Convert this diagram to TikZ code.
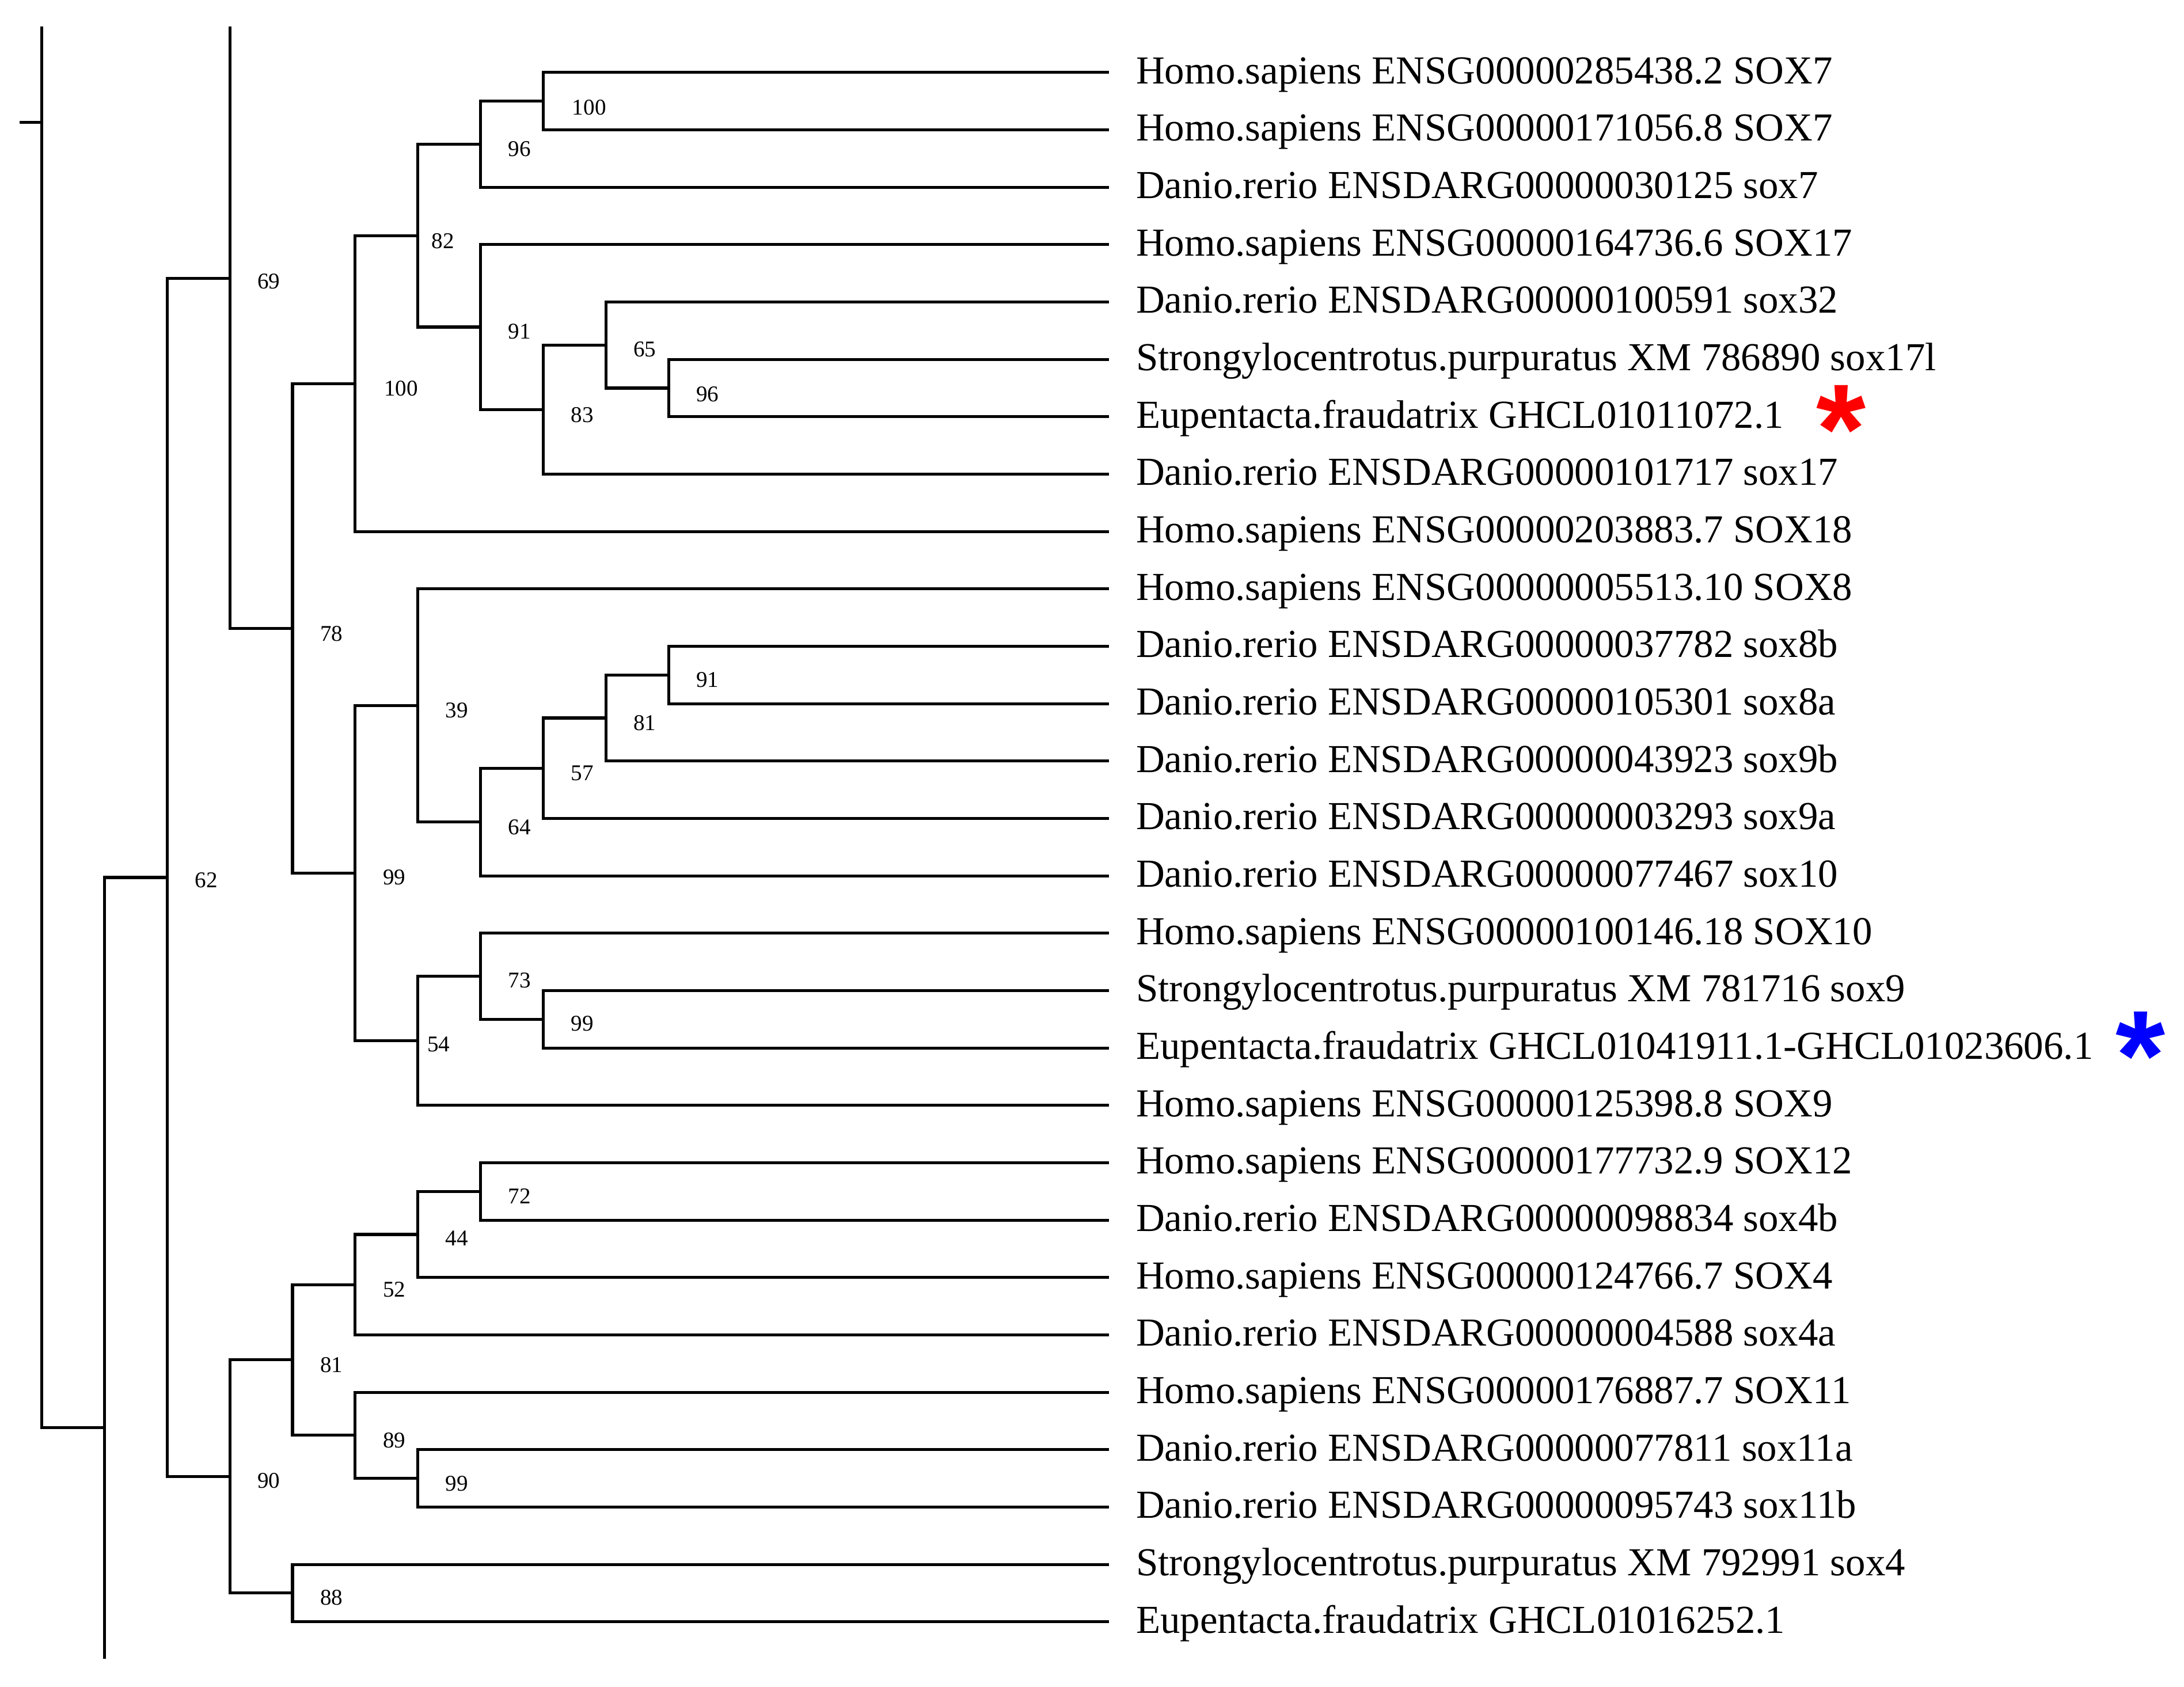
\documentclass[tikz,border=0pt]{standalone}
\usepackage{fontspec}
\setmainfont{Liberation Serif}
\newfontfamily\astfont{Liberation Sans}
\tikzset{
  br/.style={line width=0.6pt, line cap=rect},
  tiplabel/.style={anchor=base west, inner sep=0pt, font=\fontsize{8.1}{9}\selectfont},
  bs/.style={inner sep=0pt, font=\fontsize{4.6}{5}\selectfont},
  ast/.style={inner sep=0pt, font=\astfont\fontsize{26}{26}\bfseries\selectfont},
}
\newcommand{\tipp}[3]{\coordinate (#1) at (795,#2); \node[tiplabel] (#1-l) at ([yshift=-0.08cm]815,#2) {#3};}
% name, x, y, child1, child2, labelx, labely, label
\newcommand{\clade}[8]{\coordinate (#1) at (#2,#3);
  \draw[br] (#4) -| (#1|-#5) -- (#5);
  \node[bs] (#1-b) at (#6,#7) {#8};}
\begin{document}
\begin{tikzpicture}[x=0.01cm,y=-0.01cm]
\useasboundingbox (0,0) rectangle (1568,1211);
\tipp{t1}{52}{Homo.sapiens ENSG00000285438.2 SOX7}
\tipp{t2}{93.2}{Homo.sapiens ENSG00000171056.8 SOX7}
\tipp{t3}{134.4}{Danio.rerio ENSDARG00000030125 sox7}
\tipp{t4}{175.6}{Homo.sapiens ENSG00000164736.6 SOX17}
\tipp{t5}{216.8}{Danio.rerio ENSDARG00000100591 sox32}
\tipp{t6}{258}{Strongylocentrotus.purpuratus XM 786890 sox17l}
\tipp{t7}{299.2}{Eupentacta.fraudatrix GHCL01011072.1}
\tipp{t8}{340.4}{Danio.rerio ENSDARG00000101717 sox17}
\tipp{t9}{381.6}{Homo.sapiens ENSG00000203883.7 SOX18}
\tipp{t10}{422.8}{Homo.sapiens ENSG00000005513.10 SOX8}
\tipp{t11}{464}{Danio.rerio ENSDARG00000037782 sox8b}
\tipp{t12}{505.2}{Danio.rerio ENSDARG00000105301 sox8a}
\tipp{t13}{546.4}{Danio.rerio ENSDARG00000043923 sox9b}
\tipp{t14}{587.6}{Danio.rerio ENSDARG00000003293 sox9a}
\tipp{t15}{628.8}{Danio.rerio ENSDARG00000077467 sox10}
\tipp{t16}{670}{Homo.sapiens ENSG00000100146.18 SOX10}
\tipp{t17}{711.2}{Strongylocentrotus.purpuratus XM 781716 sox9}
\tipp{t18}{752.4}{Eupentacta.fraudatrix GHCL01041911.1-GHCL01023606.1}
\tipp{t19}{793.6}{Homo.sapiens ENSG00000125398.8 SOX9}
\tipp{t20}{834.8}{Homo.sapiens ENSG00000177732.9 SOX12}
\tipp{t21}{876}{Danio.rerio ENSDARG00000098834 sox4b}
\tipp{t22}{917.2}{Homo.sapiens ENSG00000124766.7 SOX4}
\tipp{t23}{958.4}{Danio.rerio ENSDARG00000004588 sox4a}
\tipp{t24}{999.6}{Homo.sapiens ENSG00000176887.7 SOX11}
\tipp{t25}{1040.8}{Danio.rerio ENSDARG00000077811 sox11a}
\tipp{t26}{1082}{Danio.rerio ENSDARG00000095743 sox11b}
\tipp{t27}{1123.2}{Strongylocentrotus.purpuratus XM 792991 sox4}
\tipp{t28}{1164.4}{Eupentacta.fraudatrix GHCL01016252.1}
\node[ast, text=red] (ra) at (1322,308) {*};
\node[ast, text=blue] (ba) at (1537,758) {*};
% clade A
\clade{a1}{390}{72.6}{t1}{t2}{423}{77}{100}
\clade{a2}{345}{103.5}{a1}{t3}{373}{107}{96}
\clade{a3}{480}{278.6}{t6}{t7}{508}{283}{96}
\clade{a4}{435}{247.7}{t5}{a3}{463}{251}{65}
\clade{a5}{390}{294}{a4}{t8}{418}{298}{83}
\clade{a6}{345}{234.8}{t4}{a5}{373}{238}{91}
\clade{a7}{300}{169.2}{a2}{a6}{318}{173}{82}
\clade{a8}{255}{275.4}{a7}{t9}{288}{279}{100}
% clade B
\clade{b1}{480}{484.6}{t11}{t12}{508}{488}{91}
\clade{b2}{435}{515.5}{b1}{t13}{463}{519}{81}
\clade{b3}{390}{551.5}{b2}{t14}{418}{555}{57}
\clade{b4}{345}{590.2}{b3}{t15}{373}{594}{64}
\clade{b5}{300}{506.5}{t10}{b4}{328}{510}{39}
\clade{b6}{390}{731.8}{t17}{t18}{418}{735}{99}
\clade{b7}{345}{700.9}{t16}{b6}{373}{704}{73}
\clade{b8}{300}{747.2}{b7}{t19}{315}{750}{54}
\clade{b9}{255}{626.9}{b5}{b8}{283}{630}{99}
% clade C
\clade{c1}{345}{855.4}{t20}{t21}{373}{859}{72}
\clade{c2}{300}{886.3}{c1}{t22}{328}{889}{44}
\clade{c3}{255}{922.4}{c2}{t23}{283}{926}{52}
\clade{c4}{300}{1061.4}{t25}{t26}{328}{1065}{99}
\clade{c5}{255}{1030.5}{t24}{c4}{283}{1034}{89}
\clade{c6}{210}{976.4}{c3}{c5}{238}{980}{81}
\clade{c7}{210}{1143.8}{t27}{t28}{238}{1147}{88}
\clade{c8}{165}{1060.1}{c6}{c7}{193}{1063}{90}
% backbone
\clade{d1}{210}{451.2}{a8}{b9}{238}{455}{78}
\coordinate (d2) at (165,200);
\coordinate (d2top) at (165,20);
\draw[br] (d2top) -- (d2|-d1) -- (d1);
\node[bs] (d2-b) at (193,202) {69};
\coordinate (d3) at (120,630);
\draw[br] (d2) -| (d3|-c8) -- (c8);
\node[bs] (d3-b) at (148,632) {62};
\coordinate (d4) at (75,1025);
\coordinate (d4bot) at (75,1190);
\draw[br] (d3) -- (d3-|d4) -- (d4bot);
\coordinate (r) at (30,20);
\coordinate (rt) at (15,88);
\draw[br] (r) -- (r|-d4) -- (d4);
\draw[br] (rt) -- (rt-|r);
\end{tikzpicture}
\end{document}
